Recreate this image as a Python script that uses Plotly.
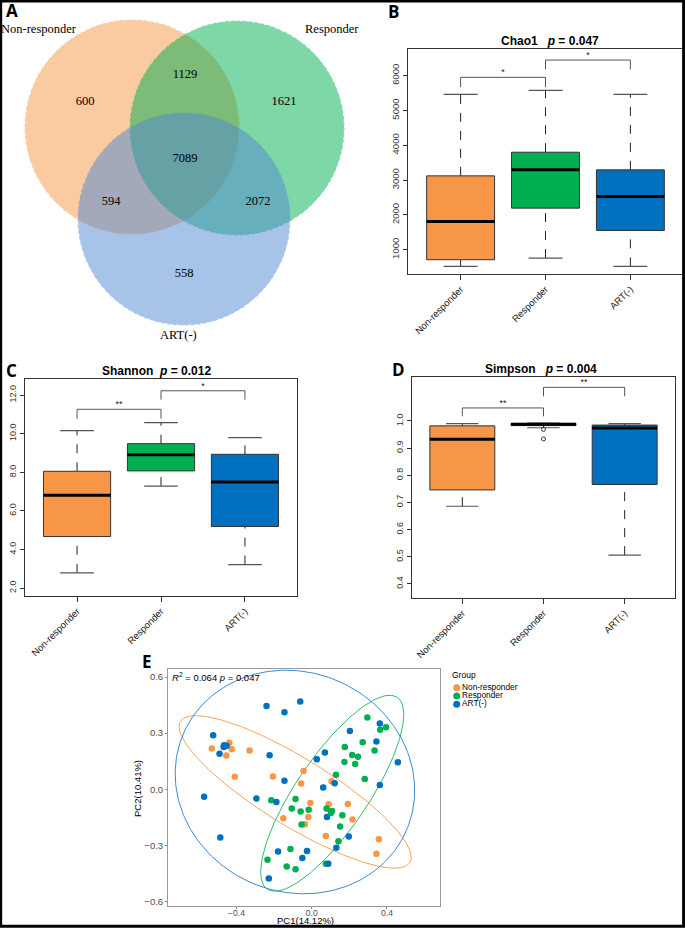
import numpy as np
import plotly.graph_objects as go

W, H = 685, 928

# ---------------- data ----------------
groups = ["Non-responder", "Responder", "ART(-)"]
colors = ["#F79646", "#00B050", "#0070C0"]
venn_fill = ["#F79646", "#00B050", "#5189D3"]

# Venn counts
venn_only = [600, 1621, 558]
venn_nr_r = 1129
venn_nr_art = 594
venn_r_art = 2072
venn_all = 7089

# Chao1 box statistics (low whisker, Q1, median, Q3, high whisker)
chao1_low = [522, 761, 522]
chao1_q1 = [713, 2195, 1554]
chao1_med = [1813, 3294, 2530]
chao1_q3 = [3122, 3801, 3294]
chao1_high = [5465, 5579, 5465]
chao1_ticks = [1000, 2000, 3000, 4000, 5000, 6000]
chao1_brackets = [(0, 1, 5952, 5670, "*"), (1, 2, 6449, 6182, "*")]

# Shannon
shannon_low = [2.79, 7.28, 3.22]
shannon_q1 = [4.67, 8.07, 5.19]
shannon_med = [6.81, 8.91, 7.50]
shannon_q3 = [8.05, 9.48, 8.93]
shannon_high = [10.16, 10.57, 9.79]
shannon_ticks = [2, 4, 6, 8, 10, 12]
shannon_brackets = [(0, 1, 11.26, 10.78, "**"), (1, 2, 12.22, 11.76, "*")]

# Simpson
simpson_low = [0.686, 0.975, 0.506]
simpson_q1 = [0.746, 0.983, 0.766]
simpson_med = [0.933, 0.988, 0.974]
simpson_q3 = [0.982, 0.991, 0.985]
simpson_high = [0.990, 0.992, 0.990]
simpson_out_grp = [1, 1]
simpson_out_val = [0.969, 0.934]
simpson_ticks = [0.4, 0.5, 0.6, 0.7, 0.8, 0.9, 1.0]
simpson_brackets = [(0, 1, 1.048, 1.017, "**"), (1, 2, 1.124, 1.091, "**")]

# PCoA
nr_x = [-0.531, -0.438, -0.425, -0.454, -0.330, -0.409, -0.206, -0.043, -0.056, 0.106,
        -0.007, 0.090, 0.192, -0.151, -0.018, -0.036, 0.217, 0.075, 0.357, 0.344]
nr_y = [0.217, 0.248, 0.214, 0.180, 0.207, 0.066, 0.068, 0.097, 0.031, 0.043,
        -0.074, -0.081, -0.079, -0.156, -0.149, -0.187, -0.162, -0.250, -0.268, -0.345]
r_x = [0.296, 0.364, 0.395, 0.176, 0.271, 0.215, 0.246, 0.334, 0.174, 0.231, 0.129, 0.282,
       -0.215, -0.086, -0.106, -0.059, -0.016, 0.079, 0.102, 0.108, 0.163, -0.054, 0.151,
       0.142, -0.113, -0.235, -0.133, -0.086, 0.075]
r_y = [0.384, 0.318, 0.332, 0.226, 0.251, 0.183, 0.174, 0.207, 0.146, 0.135, 0.077, 0.054,
       -0.059, -0.052, -0.104, -0.120, -0.110, -0.104, -0.128, -0.117, -0.140, -0.189, -0.199,
       -0.278, -0.320, -0.377, -0.413, -0.429, -0.399]
art_x = [-0.524, -0.466, -0.468, -0.452, -0.490, -0.240, -0.145, -0.061, -0.224, 0.203, 0.070,
         0.027, 0.362, 0.344, 0.458, 0.362, -0.145, 0.061, 0.122, -0.572, -0.294, -0.188, 0.081,
         -0.486, 0.197, 0.131, -0.179, -0.025, -0.050, 0.088, -0.228]
art_y = [0.289, 0.235, 0.226, 0.232, 0.189, 0.445, 0.411, 0.469, 0.181, 0.311, 0.196,
         0.160, 0.352, 0.255, 0.144, 0.023, 0.045, 0.009, 0.032, -0.040, -0.050, -0.068, -0.149,
         -0.259, -0.253, -0.314, -0.334, -0.331, -0.368, -0.399, -0.478]
pc_ticks_x = [-0.4, 0.0, 0.4]
pc_ticks_y = [-0.6, -0.3, 0.0, 0.3, 0.6]
pc_titles = ["PC1(14.12%)", "PC2(10.41%)"]

# ---------------- helpers ----------------
def px(x):
    return x / W


def py(y):
    return 1 - y / H


fig = go.Figure()

SANS = "Liberation Sans, Arial, sans-serif"
SERIF = "Liberation Serif, Times New Roman, serif"


def add_boxes(xa, ya, low, q1, med, q3, high, brackets, out_g=None, out_v=None):
    hw = 0.4
    cap = 0.2
    for i in range(len(groups)):
        fig.add_trace(go.Scatter(x=[i, i, None, i, i], y=[low[i], q1[i], None, q3[i], high[i]],
                                 mode="lines", line=dict(color="#222", width=1, dash="dash"),
                                 xaxis=xa, yaxis=ya, showlegend=False, hoverinfo="skip"))
        fig.add_trace(go.Scatter(x=[i - cap, i + cap, None, i - cap, i + cap],
                                 y=[low[i], low[i], None, high[i], high[i]],
                                 mode="lines", line=dict(color="#555", width=1.2),
                                 xaxis=xa, yaxis=ya, showlegend=False, hoverinfo="skip"))
        fig.add_trace(go.Scatter(x=[i - hw, i + hw, i + hw, i - hw, i - hw],
                                 y=[q1[i], q1[i], q3[i], q3[i], q1[i]],
                                 mode="lines", fill="toself", fillcolor=colors[i],
                                 line=dict(color="#333", width=1),
                                 xaxis=xa, yaxis=ya, showlegend=False, hoverinfo="skip"))
        fig.add_trace(go.Scatter(x=[i - hw, i + hw], y=[med[i], med[i]], mode="lines",
                                 line=dict(color="black", width=3),
                                 xaxis=xa, yaxis=ya, showlegend=False, hoverinfo="skip"))
    if out_g is not None:
        fig.add_trace(go.Scatter(x=out_g, y=out_v, mode="markers",
                                 marker=dict(symbol="circle-open", size=4, color="#333",
                                             line=dict(width=1)),
                                 xaxis=xa, yaxis=ya, showlegend=False, hoverinfo="skip"))
    for a, b, top, leg, lab in brackets:
        fig.add_trace(go.Scatter(x=[a, a, b, b], y=[leg, top, top, leg], mode="lines",
                                 line=dict(color="#555", width=1),
                                 xaxis=xa, yaxis=ya, showlegend=False, hoverinfo="skip"))
        fig.add_trace(go.Scatter(x=[(a + b) / 2], y=[top], mode="text", text=[lab],
                                 textposition="top center", cliponaxis=False,
                                 textfont=dict(family=SANS, size=9, color="#222"),
                                 xaxis=xa, yaxis=ya, showlegend=False, hoverinfo="skip"))


add_boxes("x2", "y2", chao1_low, chao1_q1, chao1_med, chao1_q3, chao1_high, chao1_brackets)
add_boxes("x3", "y3", shannon_low, shannon_q1, shannon_med, shannon_q3, shannon_high, shannon_brackets)
add_boxes("x4", "y4", simpson_low, simpson_q1, simpson_med, simpson_q3, simpson_high,
          simpson_brackets, simpson_out_grp, simpson_out_val)


# ---------------- PCoA ----------------
def cov_trob(pts, nu=5, maxit=50, tol=0.01):
    n, p = pts.shape
    loc = pts.mean(axis=0)
    w = np.ones(n)
    X = pts - loc
    for _ in range(maxit):
        w0 = w
        X = pts - loc
        _, d, vt = np.linalg.svd(np.sqrt(w / w.sum())[:, None] * X, full_matrices=False)
        wX = X @ vt.T @ np.diag(1 / d)
        Q = (wX ** 2).sum(axis=1)
        w = (nu + p) / (nu + Q)
        loc = (w[:, None] * pts).sum(axis=0) / w.sum()
        if np.all(np.abs(w - w0) < tol):
            break
    cov = (np.sqrt(w)[:, None] * X).T @ (np.sqrt(w)[:, None] * X) / n
    return loc, cov


def ellipse(xs, ys, level=0.92, n_pts=240):
    pts = np.column_stack([xs, ys])
    mu, cov = cov_trob(pts)
    vals, vecs = np.linalg.eigh(cov)
    d2 = len(xs) - 1
    fq = d2 / 2 * ((1 - level) ** (-2 / d2) - 1)
    scale = np.sqrt(2 * fq)
    t = np.linspace(0, 2 * np.pi, n_pts)
    circ = np.column_stack([np.cos(t), np.sin(t)])
    e = mu + scale * (circ * np.sqrt(vals)) @ vecs.T
    return e[:, 0], e[:, 1]


pc_sets = [(nr_x, nr_y), (r_x, r_y), (art_x, art_y)]
ell_colors = ["#F7A35C", "#2EBD6B", "#3A8AD6"]
for k, (xs, ys) in enumerate(pc_sets):
    ex, ey = ellipse(xs, ys)
    fig.add_trace(go.Scatter(x=ex, y=ey, mode="lines", line=dict(color=ell_colors[k], width=1),
                             xaxis="x5", yaxis="y5", showlegend=False, hoverinfo="skip"))
for k, (xs, ys) in enumerate(pc_sets):
    fig.add_trace(go.Scatter(x=xs, y=ys, mode="markers", name=groups[k],
                             marker=dict(color=colors[k], size=6.5),
                             xaxis="x5", yaxis="y5", showlegend=False))

# manual legend (own small axis, pixel units)
leg_y = [19.7, 28.0, 36.3]
fig.add_trace(go.Scatter(x=[8.7] * 3, y=leg_y, mode="markers+text", text=groups,
                         textposition="middle right", cliponaxis=False,
                         marker=dict(color=colors, size=7),
                         textfont=dict(family=SANS, size=8.3, color="black"),
                         xaxis="x6", yaxis="y6", showlegend=False, hoverinfo="skip"))
fig.add_trace(go.Scatter(x=[4], y=[7.7], mode="text", text=["Group"], textposition="middle right",
                         cliponaxis=False, textfont=dict(family=SANS, size=8.5, color="black"),
                         xaxis="x6", yaxis="y6", showlegend=False, hoverinfo="skip"))

# ---------------- Venn ----------------
venn_circles = [(132, 127, 107), (237, 128, 107), (184, 219, 106)]
shapes = []
for (cx, cy, r), c in zip(venn_circles, venn_fill):
    shapes.append(dict(type="circle", xref="x", yref="y", x0=cx - r, x1=cx + r, y0=cy - r, y1=cy + r,
                       fillcolor=c, opacity=0.5, line=dict(color=c, width=1, dash="dot"), layer="below"))
shapes.append(dict(type="rect", xref="paper", yref="paper", x0=0.001, x1=0.998, y0=0.002, y1=0.999,
                   line=dict(color="black", width=3)))

venn_pos_x = [85, 185, 284, 185, 111, 258, 184]
venn_pos_y = [102, 75, 102, 159, 202, 202, 274]
venn_vals = [venn_only[0], venn_nr_r, venn_only[1], venn_all, venn_nr_art, venn_r_art, venn_only[2]]
fig.add_trace(go.Scatter(x=venn_pos_x, y=venn_pos_y, mode="text", text=[str(v) for v in venn_vals],
                         textposition="middle center", cliponaxis=False,
                         textfont=dict(family=SERIF, size=12.5, color="black"),
                         xaxis="x", yaxis="y", showlegend=False, hoverinfo="skip"))
fig.add_trace(go.Scatter(x=[1, 305, 160], y=[30, 30, 336], mode="text", text=groups,
                         textposition="middle right", cliponaxis=False,
                         textfont=dict(family=SERIF, size=12.5, color="black"),
                         xaxis="x", yaxis="y", showlegend=False, hoverinfo="skip"))

annotations = []
C = dict(xanchor="center", yanchor="middle", showarrow=False, xref="paper", yref="paper")
# panel letters
for lab, x, y in [("A", 12, 10), ("B", 393, 11), ("C", 11, 370), ("D", 398, 369), ("E", 147, 661)]:
    annotations.append(dict(x=px(x), y=py(y), text="<b>%s</b>" % lab, borderpad=0,
                            font=dict(family="Open Sans, Liberation Sans", size=17, color="black"), **C))

# titles
for txt, x, y in [("Chao1   <i>p</i> = 0.047", 550, 41), ("Shannon  <i>p</i> = 0.012", 156, 371),
                  ("Simpson   <i>p</i> = 0.004", 541, 369)]:
    annotations.append(dict(x=px(x), y=py(y), text="<b>%s</b>" % txt,
                            font=dict(family=SANS, size=12, color="black"), **C))

annotations.append(dict(x=px(170), y=py(677), xref="paper", yref="paper", xanchor="left", yanchor="middle",
                        text="<i>R</i><sup>2</sup> = 0.064 <i>p</i> = 0.047", showarrow=False,
                        font=dict(family=SANS, size=9.5, color="black")))
annotations.append(dict(x=px(305), y=py(920.5), text=pc_titles[0], borderpad=0,
                        font=dict(family=SANS, size=9.5, color="black"), **C))
annotations.append(dict(x=px(137), y=py(789), text=pc_titles[1], textangle=-90, borderpad=0,
                        font=dict(family=SANS, size=9.5, color="black"), **C))


# ---------------- axes ----------------
def box_axes(xdom, ydom, yr, ticks, tickfmt, ysize):
    xa = dict(domain=xdom, range=[-0.62, 2.62], tickmode="array", tickvals=[0, 1, 2], ticktext=groups,
              tickangle=-45, ticks="outside", ticklen=5, tickcolor="#333", showline=True, mirror=True,
              linecolor="#333", linewidth=1, showgrid=False, zeroline=False, automargin=False,
              tickfont=dict(family=SANS, size=9.5, color="#222"))
    ya = dict(domain=ydom, range=yr, tickmode="array", tickvals=ticks,
              ticktext=[tickfmt % t for t in ticks], tickangle=-90, ticks="outside", ticklen=4,
              tickcolor="#333", showline=True, mirror=True, linecolor="#333", linewidth=1,
              showgrid=False, zeroline=False, automargin=False,
              tickfont=dict(family=SANS, size=ysize, color="#333"))
    return xa, ya


xa2, ya2 = box_axes([px(408), px(683)], [py(274), py(49)], [303, 6766], chao1_ticks, "%d", 9.5)
xa3, ya3 = box_axes([px(25), px(297)], [py(596), py(379)], [1.59, 12.83], shannon_ticks, "%.1f", 9)
xa4, ya4 = box_axes([px(412), px(675)], [py(598), py(377)], [0.348, 1.162], simpson_ticks, "%.1f", 9)
ya2["anchor"] = "x2"; xa2["anchor"] = "y2"
ya3["anchor"] = "x3"; xa3["anchor"] = "y3"
ya4["anchor"] = "x4"; xa4["anchor"] = "y4"


def signed(v):
    return "%.1f" % v if v >= 0 else "\u2212%.1f" % abs(v)


xa5 = dict(domain=[px(168), px(440)], range=[-0.764, 0.682], anchor="y5", tickmode="array",
           tickvals=pc_ticks_x, ticktext=[signed(v) for v in pc_ticks_x],
           ticks="outside", ticklen=2, tickcolor="#888", showline=True, mirror=True, linecolor="#999",
           linewidth=1, showgrid=False, zeroline=False, automargin=False, ticklabelstandoff=-3,
           tickfont=dict(family=SANS, size=8.5, color="#4D4D4D"))
ya5 = dict(domain=[py(906), py(669)], range=[-0.625, 0.643], anchor="x5", tickmode="array",
           tickvals=pc_ticks_y, ticktext=[signed(v) for v in pc_ticks_y],
           ticks="outside", ticklen=2, tickcolor="#888", showline=True, mirror=True, linecolor="#999",
           linewidth=1, showgrid=False, zeroline=False, automargin=False,
           tickfont=dict(family=SANS, size=9.5, color="#4D4D4D"))

fig.update_layout(
    width=W, height=H, margin=dict(l=0, r=0, t=0, b=0, autoexpand=False),
    paper_bgcolor="white", plot_bgcolor="rgba(0,0,0,0)",
    xaxis=dict(domain=[0, px(360)], range=[0, 360], visible=False, anchor="y", automargin=False),
    yaxis=dict(domain=[py(345), 1], range=[345, 0], visible=False, anchor="x", automargin=False),
    xaxis2=xa2, yaxis2=ya2, xaxis3=xa3, yaxis3=ya3, xaxis4=xa4, yaxis4=ya4,
    xaxis5=xa5, yaxis5=ya5,
    xaxis6=dict(domain=[px(448), px(560)], range=[0, 112], visible=False, anchor="y6", automargin=False),
    yaxis6=dict(domain=[py(716), py(668)], range=[48, 0], visible=False, anchor="x6", automargin=False),
    shapes=shapes, annotations=annotations,
    showlegend=False,
)

fig.write_html("out.html", config={"displayModeBar": False},
               post_script="document.body.style.margin='0';")
